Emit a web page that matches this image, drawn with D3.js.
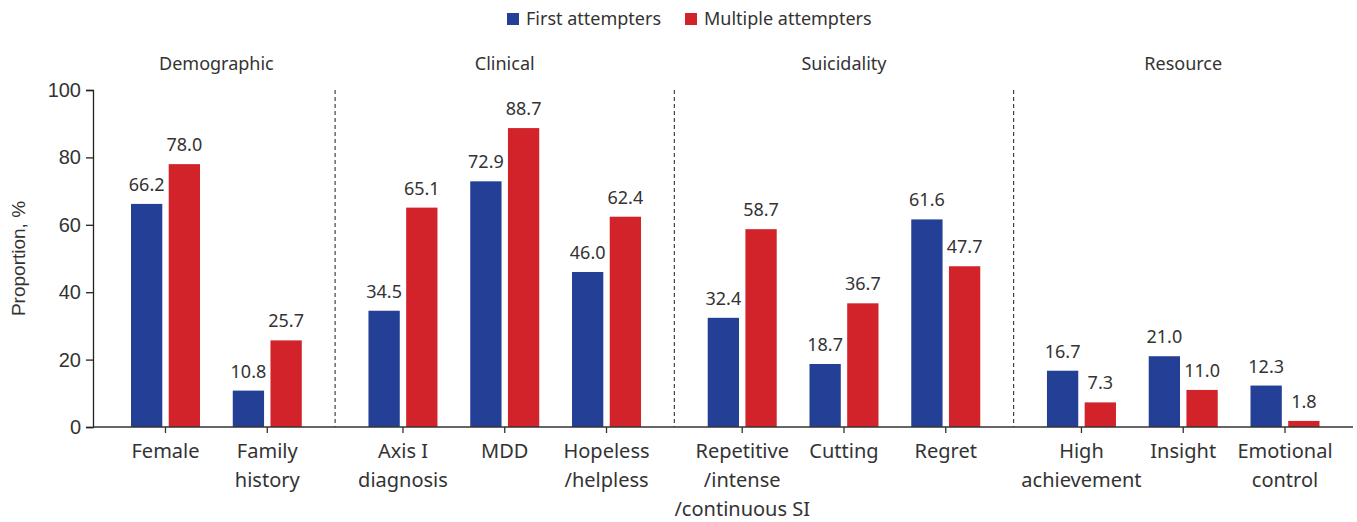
<!DOCTYPE html>
<html>
<head>
<meta charset="utf-8">
<script src="https://cdn.jsdelivr.net/npm/d3@7"></script>
<style>
  body { margin: 0; background: #fff; }
  text { font-family: "Noto Sans", sans-serif; fill: #333; }
</style>
</head>
<body>
<div id="chart"></div>
<script>
// values
const categories = [
  ['Female'], ['Family', 'history'],
  ['Axis I', 'diagnosis'], ['MDD'], ['Hopeless', '/helpless'],
  ['Repetitive', '/intense', '/continuous SI'], ['Cutting'], ['Regret'],
  ['High', 'achievement'], ['Insight'], ['Emotional', 'control']
];
const groupOf = [0, 0, 1, 1, 1, 2, 2, 2, 3, 3, 3];
const groups = ['Demographic', 'Clinical', 'Suicidality', 'Resource'];
const series = ['First attempters', 'Multiple attempters'];
const firstAttempters = [66.2, 10.8, 34.5, 72.9, 46.0, 32.4, 18.7, 61.6, 16.7, 21.0, 12.3];
const multipleAttempters = [78.0, 25.7, 65.1, 88.7, 62.4, 58.7, 36.7, 47.7, 7.3, 11.0, 1.8];
const yTicks = [0, 20, 40, 60, 80, 100];
const colors = ['#233f96', '#d2232a'];

const width = 1357, height = 522;
const margin = {top: 90, right: 4, bottom: 95, left: 93};

const svg = d3.select('#chart').append('svg')
  .attr('width', width)
  .attr('height', height);

// position of each category: index plus a third of a slot for every group gap
const slot = (i) => i + groupOf[i] / 3;
const xScale = d3.scaleLinear()
  .domain([0, slot(categories.length - 1)])
  .range([165.5, 1285]);

const inner = d3.scaleBand()
  .domain(series)
  .range([-34.5, 34.5])
  .paddingInner(0.17);

const yScale = d3.scaleLinear()
  .domain([0, 100])
  .range([height - margin.bottom, margin.top]);

const rows = categories.map((c, i) => ({
  i: i,
  values: [firstAttempters[i], multipleAttempters[i]]
}));

// dashed dividers between groups
const dividers = [];
for (let i = 1; i < categories.length; i++) {
  if (groupOf[i] !== groupOf[i - 1]) dividers.push((xScale(slot(i)) + xScale(slot(i - 1))) / 2);
}
svg.append('g')
  .selectAll('line')
  .data(dividers)
  .join('line')
  .attr('x1', d => d).attr('x2', d => d)
  .attr('y1', yScale(100)).attr('y2', yScale(0))
  .attr('stroke', '#444')
  .attr('stroke-width', 1.2)
  .attr('stroke-dasharray', '4,3');

// bars
const cat = svg.append('g')
  .selectAll('g')
  .data(rows)
  .join('g')
  .attr('transform', d => `translate(${xScale(slot(d.i))},0)`);

cat.selectAll('rect')
  .data(d => d.values.map((v, k) => ({key: series[k], value: v, k: k})))
  .join('rect')
  .attr('x', d => inner(d.key))
  .attr('width', inner.bandwidth())
  .attr('y', d => yScale(d.value))
  .attr('height', d => yScale(0) - yScale(d.value))
  .attr('fill', d => colors[d.k]);

cat.selectAll('text.val')
  .data(d => d.values.map((v, k) => ({key: series[k], value: v, k: k})))
  .join('text')
  .attr('class', 'val')
  .attr('x', d => inner(d.key) + inner.bandwidth() / 2)
  .attr('y', d => yScale(d.value) - 13)
  .attr('text-anchor', 'middle')
  .style('font-size', '18px')
  .text(d => d.value.toFixed(1));

// y axis
const yAxis = svg.append('g')
  .attr('transform', `translate(${margin.left},0)`)
  .call(d3.axisLeft(yScale).tickValues(yTicks).tickSize(7).tickPadding(5));
yAxis.selectAll('text')
  .style('font-size', '20px')
  .style('font-family', '"Liberation Sans", Arial, sans-serif')
  .attr('fill', '#222');
yAxis.selectAll('line, path').attr('stroke', '#222').attr('stroke-width', 1.3);

svg.append('text')
  .attr('transform', `translate(25,${(yScale(0) + yScale(100)) / 2}) rotate(-90)`)
  .attr('text-anchor', 'middle')
  .style('font-size', '19px')
  .style('font-family', '"Liberation Sans", Arial, sans-serif')
  .text('Proportion, %');

// x axis line and ticks
const xAxis = svg.append('g')
  .attr('transform', `translate(0,${yScale(0)})`);
xAxis.append('line')
  .attr('x1', margin.left).attr('x2', width - margin.right)
  .attr('stroke', '#333').attr('stroke-width', 1.3);
xAxis.selectAll('line.tick')
  .data(rows)
  .join('line')
  .attr('class', 'tick')
  .attr('x1', d => xScale(slot(d.i))).attr('x2', d => xScale(slot(d.i)))
  .attr('y1', 0).attr('y2', 6)
  .attr('stroke', '#333').attr('stroke-width', 1.3);

const labels = xAxis.selectAll('text.cat')
  .data(rows)
  .join('text')
  .attr('class', 'cat')
  .attr('text-anchor', 'middle')
  .style('font-size', '20px');
labels.selectAll('tspan')
  .data(d => categories[d.i].map(t => ({t: t, x: xScale(slot(d.i))})))
  .join('tspan')
  .attr('x', d => d.x)
  .attr('y', (d, j) => 31 + j * 29)
  .text(d => d.t);

// group titles
svg.append('g')
  .selectAll('text')
  .data(groups)
  .join('text')
  .attr('x', (g, gi) => d3.mean(rows.filter(r => groupOf[r.i] === gi), r => xScale(slot(r.i))))
  .attr('y', 70)
  .attr('text-anchor', 'middle')
  .style('font-size', '18px')
  .text(g => g);

// legend
const legendX = [507, 685];
const legend = svg.append('g')
  .selectAll('g')
  .data(series)
  .join('g')
  .attr('transform', (d, i) => `translate(${legendX[i]},13)`);
legend.append('rect')
  .attr('width', 12).attr('height', 12)
  .attr('fill', (d, i) => colors[i]);
legend.append('text')
  .attr('x', 19).attr('y', 12)
  .style('font-size', '18px')
  .text(d => d);
</script>
</body>
</html>
